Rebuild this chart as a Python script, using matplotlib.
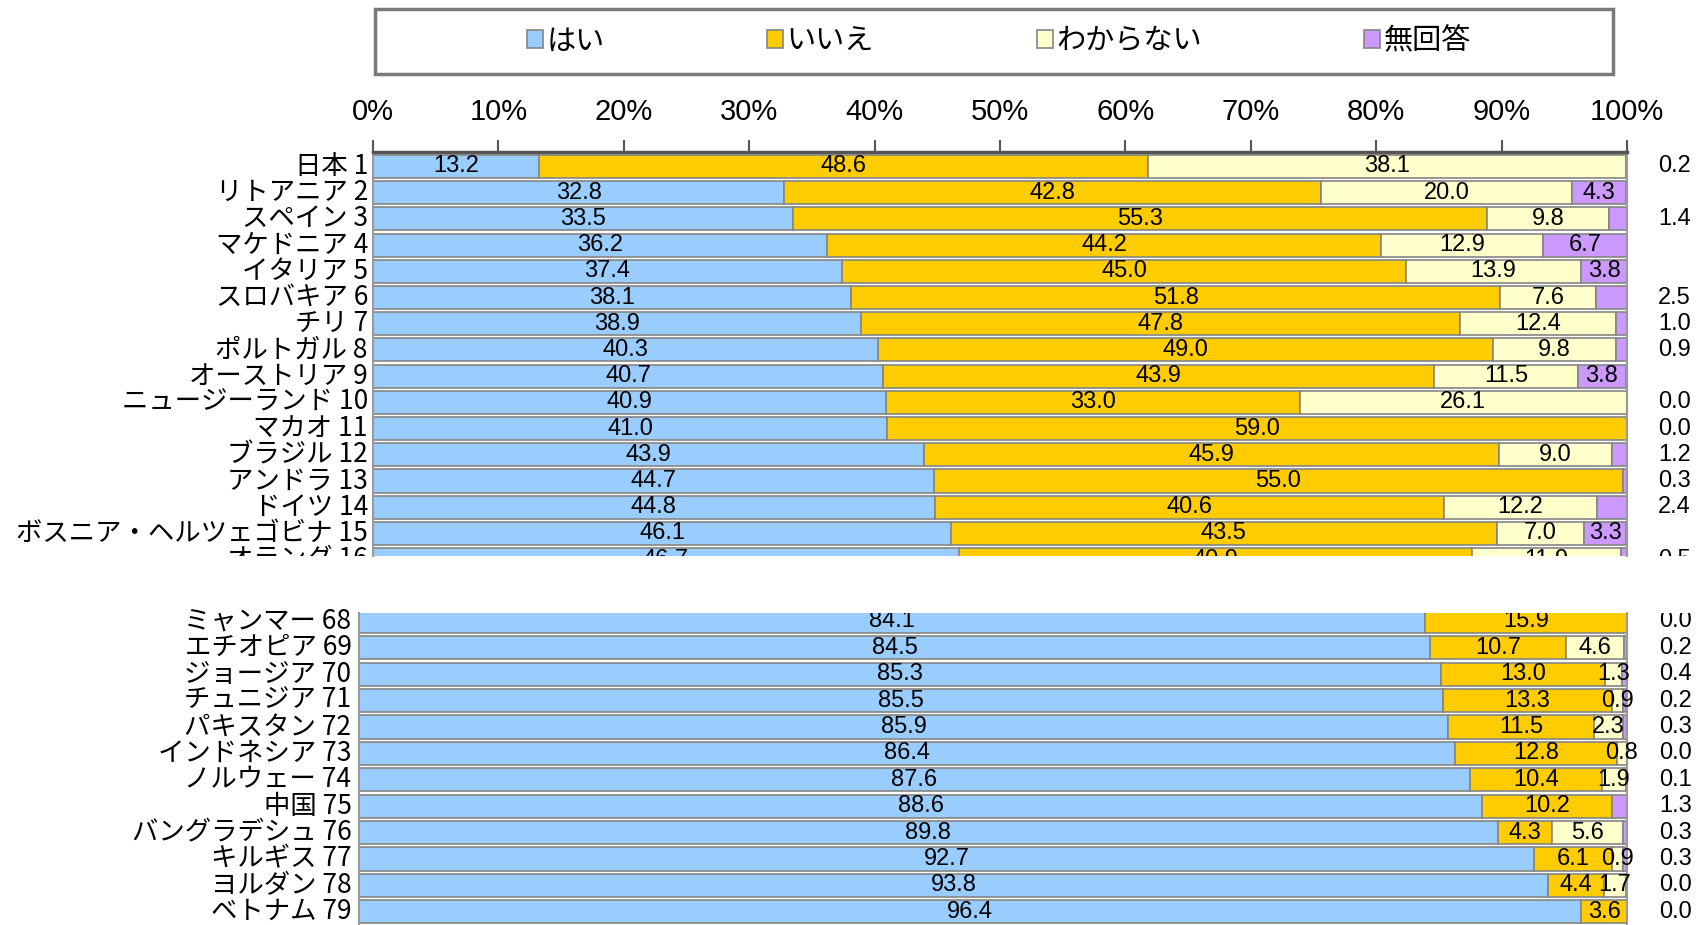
import matplotlib.pyplot as plt
from matplotlib.patches import Rectangle
from matplotlib.transforms import Bbox, TransformedBbox
import numpy as np

plt.rcParams['font.family'] = ['Noto Sans CJK JP', 'DejaVu Sans']
NUM_FONT = ['Liberation Sans Narrow', 'Liberation Sans', 'DejaVu Sans']

series = ['はい', 'いいえ', 'わからない', '無回答']
colors = ['#99CCFF', '#FFCC00', '#FFFFCC', '#CC99FF']

# upper part of the ranking (1-16)
top_names = ['日本', 'リトアニア', 'スペイン', 'マケドニア', 'イタリア', 'スロバキア',
             'チリ', 'ポルトガル', 'オーストリア', 'ニュージーランド', 'マカオ',
             'ブラジル', 'アンドラ', 'ドイツ', 'ボスニア・ヘルツェゴビナ', 'オランダ']
top_ranks = list(range(1, 17))
top_yes = [13.2, 32.8, 33.5, 36.2, 37.4, 38.1, 38.9, 40.3, 40.7, 40.9, 41.0, 43.9, 44.7, 44.8, 46.1, 46.7]
top_no = [48.6, 42.8, 55.3, 44.2, 45.0, 51.8, 47.8, 49.0, 43.9, 33.0, 59.0, 45.9, 55.0, 40.6, 43.5, 40.9]
top_dk = [38.1, 20.0, 9.8, 12.9, 13.9, 7.6, 12.4, 9.8, 11.5, 26.1, 0.0, 9.0, 0.0, 12.2, 7.0, 11.9]
top_na = [0.2, 4.3, 1.4, 6.7, 3.8, 2.5, 1.0, 0.9, 3.8, 0.0, 0.0, 1.2, 0.3, 2.4, 3.3, 0.5]

# lower part of the ranking (68-79)
bot_names = ['ミャンマー', 'エチオピア', 'ジョージア', 'チュニジア', 'パキスタン', 'インドネシア',
             'ノルウェー', '中国', 'バングラデシュ', 'キルギス', 'ヨルダン', 'ベトナム']
bot_ranks = list(range(68, 80))
bot_yes = [84.1, 84.5, 85.3, 85.5, 85.9, 86.4, 87.6, 88.6, 89.8, 92.7, 93.8, 96.4]
bot_no = [15.9, 10.7, 13.0, 13.3, 11.5, 12.8, 10.4, 10.2, 4.3, 6.1, 4.4, 3.6]
bot_dk = [0.0, 4.6, 1.3, 0.9, 2.3, 0.8, 1.9, 0.0, 5.6, 0.9, 1.7, 0.0]
bot_na = [0.0, 0.2, 0.4, 0.2, 0.3, 0.0, 0.1, 1.3, 0.3, 0.3, 0.0, 0.0]

W, H = 1706, 925
fig = plt.figure(figsize=(W / 100, H / 100), dpi=100)


def clipped(t, clip):
    t.set_clip_on(True)
    t.set_clip_path(None)
    t.set_clip_box(clip)


def panel(rect, names, ranks, cols, ylim, label_x, label_top):
    ax = fig.add_axes(rect)
    clip = TransformedBbox(Bbox([[-0.6, 0], [1.2, 1]]), ax.transAxes)
    label_clip = TransformedBbox(Bbox([[-0.6, 0], [1.2, label_top]]), ax.transAxes)
    left = np.zeros(len(ranks))
    handles = []
    for i, vals in enumerate(cols):
        vals = np.array(vals)
        b = ax.barh(ranks, vals, left=left, height=0.88, color=colors[i],
                    edgecolor='#858585', linewidth=1.2, label=series[i])
        handles.append(b)
        for r, l, v in zip(ranks, left, vals):
            if i < 3 and v > 0 or i == 3 and v >= 3:
                t = ax.text(l + v / 2, r, f'{v:.1f}', ha='center', va='center',
                            fontsize=17, family=NUM_FONT)
            elif i == 3:
                t = ax.text(103.8, r, f'{v:.1f}', ha='center', va='center',
                            fontsize=17, family=NUM_FONT)
            else:
                continue
            clipped(t, clip)
        left = left + vals
    for n, r in zip(names, ranks):
        t = ax.text(label_x, r, f'{n} {r}', ha='right', va='center', fontsize=19,
                    transform=ax.get_yaxis_transform())
        clipped(t, label_clip)
    ax.set_xlim(0, 100)
    ax.set_ylim(*ylim)
    ax.set_yticks([])
    for s in ['left', 'right']:
        ax.spines[s].set_color('#9a9a9a')
        ax.spines[s].set_linewidth(1.5)
    ax.spines['bottom'].set_visible(False)
    return ax, handles


ax1, handles = panel([373 / W, 1 - 556 / H, 1254 / W, 404 / H], top_names, top_ranks,
                     [top_yes, top_no, top_dk, top_na], (15.86, 0.45), -0.004, 1.0)
ax1.xaxis.tick_top()
ax1.set_xticks(range(0, 101, 10))
ax1.set_xticklabels([f'{t}%' for t in range(0, 101, 10)], family=NUM_FONT, fontsize=21)
ax1.tick_params(axis='x', direction='out', length=9, width=1.5, color='#555555', pad=10)
ax1.spines['top'].set_color('#555555')
ax1.spines['top'].set_linewidth(2.5)

ax2, _ = panel([359 / W, 0, 1268 / W, 312.4 / H], bot_names, bot_ranks,
               [bot_yes, bot_no, bot_dk, bot_na], (79.5, 67.67), -0.006, 1.03)
ax2.set_xticks([])
ax2.spines['top'].set_visible(False)

# legend box
fig.patches.append(Rectangle((375 / W, 1 - 74 / H), 1238 / W, 65 / H, transform=fig.transFigure,
                             facecolor='white', edgecolor='#7a7a7a', linewidth=2.5))
fig.legend(handles=handles, labels=series, ncol=4, loc='center', mode='expand',
           bbox_to_anchor=(527 / W, 1 - 74 / H, 944 / W, 65 / H), frameon=False,
           borderpad=0, borderaxespad=0,
           fontsize=21, handlelength=0.55, handleheight=0.55, handletextpad=0.12)

fig.savefig('out.png', dpi=100)
